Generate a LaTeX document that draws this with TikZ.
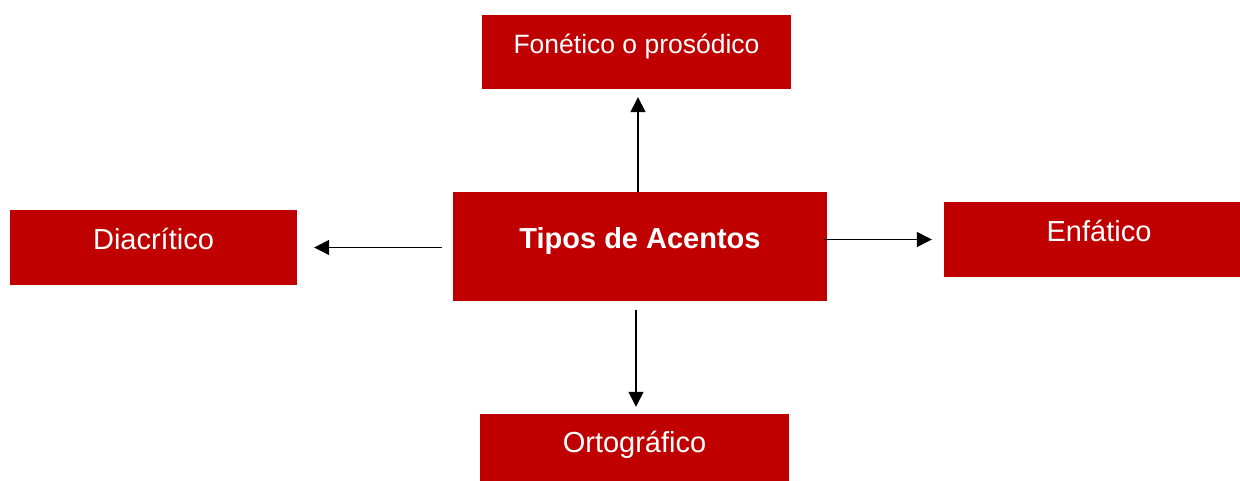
\documentclass[tikz,border=0pt]{standalone}
\usepackage{fontspec}
\setmainfont{Liberation Sans}
\usetikzlibrary{arrows.meta}
\definecolor{boxred}{HTML}{C00000}
\tikzset{
  box/.style={fill=boxred, draw=none, text=white, inner sep=0pt,
    text height=13pt, text depth=9pt, font=\fontsize{29}{32}\selectfont},
  arr/.style={line width=1.4pt, -{Triangle[length=15pt,width=15pt]}}
}
\begin{document}
\begin{tikzpicture}[x=1pt,y=1pt]
\clip (0,0) rectangle (1240,481);
\fill[white] (0,0) rectangle (1240,481);
\node[box, minimum width=309pt, minimum height=74pt, font=\fontsize{26.5}{30}\selectfont] (t) at (636.5,429) {Fonético o prosódico};
\node[box, minimum width=374pt, minimum height=109pt, font=\bfseries\fontsize{29}{32}\selectfont] (c) at (640,234.5) {Tipos de Acentos};
\node[box, minimum width=287pt, minimum height=75pt] (l) at (153.5,233.5) {Diacrítico};
\node[box, minimum width=310pt, minimum height=75pt] (r) at (1099,241.5) {Enfático};
\node[box, minimum width=309pt, minimum height=74pt] (b) at (634.5,30) {Ortográfico};
\draw[arr, shorten >=8pt] ([xshift=1.5pt]c.north -| t.south) -- ([xshift=1.5pt]t.south);
\draw[arr, shorten <=9pt, shorten >=7pt] ([xshift=1.5pt]c.south -| b.north) -- ([xshift=1.5pt]b.north);
\draw[arr, shorten <=11pt, shorten >=17pt] (c.west |- l.east) -- (l.east);
\draw[arr, shorten <=-3pt, shorten >=12pt] (c.east |- r.west) -- (r.west);
\end{tikzpicture}
\end{document}
